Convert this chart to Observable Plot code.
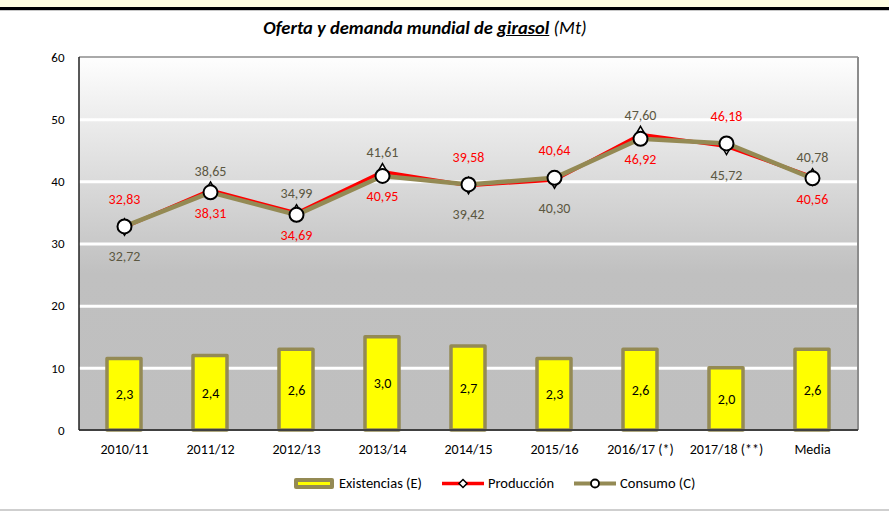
<!DOCTYPE html>
<html>
<head>
<meta charset="utf-8">
<script src="https://cdn.jsdelivr.net/npm/d3@7"></script>
<script src="https://cdn.jsdelivr.net/npm/@observablehq/plot@0.6"></script>
<style>
  body { margin: 0; background: #fff; font-family: Carlito, Lato, "Open Sans", sans-serif; }
  #wrap { position: relative; width: 889px; height: 512px; overflow: hidden; background: #fff; }
  #band { position: absolute; left: 0; top: 0; width: 889px; height: 7px; background: #fffee0; }
  #bline { position: absolute; left: 0; top: 7px; width: 889px; height: 3px; background: #000; }
  #gline { position: absolute; left: 0; top: 10px; width: 889px; height: 1px; background: #c8c8c8; }
  #bottom { position: absolute; left: 0; top: 509px; width: 889px; height: 2px; background: #cfcfcf; }
  #chart { position: absolute; left: 0; top: 0; }
  #title { position: absolute; left: 0; top: 16px; width: 850px; text-align: center; font-size: 18.5px; color: #000; }
  #legend { position: absolute; left: 293px; top: 474px; display: flex; align-items: center; font-size: 14.5px; color: #000; }
  .item { display: flex; align-items: center; margin-right: 20px; }
  .item svg { margin-right: 4px; }
</style>
</head>
<body>
<div id="wrap">
  <div id="band"></div><div id="bline"></div><div id="gline"></div>
  <div id="chart"></div>
  <div id="title"><b><i>Oferta y demanda mundial de <u>girasol</u></i></b> <i>(Mt)</i></div>
  <div id="legend">
    <div class="item">
      <svg width="42" height="13"><rect x="1" y="1" width="40" height="11" rx="2" fill="#948a54"/><rect x="5" y="5" width="32" height="3" fill="#ffff00"/></svg>
      <span>Existencias (E)</span>
    </div>
    <div class="item">
      <svg width="42" height="13"><line x1="0" y1="6.5" x2="42" y2="6.5" stroke="#ff0000" stroke-width="3.5"/><path d="M21,2.5 L25,6.5 L21,10.5 L17,6.5 Z" fill="#fff" stroke="#000" stroke-width="1.5"/></svg>
      <span>Producción</span>
    </div>
    <div class="item">
      <svg width="42" height="13"><line x1="0" y1="6.5" x2="42" y2="6.5" stroke="#948a54" stroke-width="4"/><circle cx="21" cy="6.5" r="4" fill="#fff" stroke="#000" stroke-width="1.8"/></svg>
      <span>Consumo (C)</span>
    </div>
  </div>
  <div id="bottom"></div>
</div>
<script>
// ---- Data (Mt) ----
const campanas = ["2010/11", "2011/12", "2012/13", "2013/14", "2014/15", "2015/16", "2016/17 (*)", "2017/18 (**)", "Media"];
const existencias = [2.3, 2.4, 2.6, 3.0, 2.7, 2.3, 2.6, 2.0, 2.6];          // bars, secondary axis 0–12
const produccion  = [32.72, 38.65, 34.99, 41.61, 39.42, 40.30, 47.60, 45.72, 40.78]; // red line, diamonds
const consumo     = [32.83, 38.31, 34.69, 40.95, 39.58, 40.64, 46.92, 46.18, 40.56]; // olive line, circles
const yTicks = [0, 10, 20, 30, 40, 50, 60];
const secondaryMax = 12;   // hidden secondary axis for stocks
const primaryMax = 60;

const fmt = v => v.toFixed(2).replace(".", ",");
const fmt1 = v => v.toFixed(1).replace(".", ",");
const toPrimary = v => v * primaryMax / secondaryMax;

const data = campanas.map((c, i) => ({
  cat: c, e: existencias[i], p: produccion[i], c: consumo[i]
}));

const OLIVE = "#948a54";
const OLIVE_TXT = "#5b5741";
const RED = "#ff0000";
const FONT = "Carlito, Lato, 'Open Sans', sans-serif";

const background = (index, scales, values, dim) => {
  const g = d3.create("svg:g");
  const lg = g.append("defs").append("linearGradient")
    .attr("id", "bgGrad").attr("x1", 0).attr("y1", 0).attr("x2", 0).attr("y2", 1);
  lg.append("stop").attr("offset", "0%").attr("stop-color", "#fefefe");
  lg.append("stop").attr("offset", "30%").attr("stop-color", "#dedede");
  lg.append("stop").attr("offset", "58%").attr("stop-color", "#c0c0c0");
  lg.append("stop").attr("offset", "100%").attr("stop-color", "#bfbfbf");
  g.append("rect")
    .attr("x", dim.marginLeft).attr("y", dim.marginTop)
    .attr("width", dim.width - dim.marginLeft - dim.marginRight)
    .attr("height", dim.height - dim.marginTop - dim.marginBottom)
    .attr("fill", "url(#bgGrad)");
  return g.node();
};

const borders = (index, scales, values, dim) => {
  const g = d3.create("svg:g");
  const x0 = dim.marginLeft, x1 = dim.width - dim.marginRight;
  const y0 = dim.marginTop, y1 = dim.height - dim.marginBottom;
  g.append("line").attr("x1", x0).attr("x2", x1).attr("y1", y0).attr("y2", y0).attr("stroke", "#8c8c8c").attr("stroke-width", 1.5);
  g.append("line").attr("x1", x1).attr("x2", x1).attr("y1", y0).attr("y2", y1).attr("stroke", "#8c8c8c").attr("stroke-width", 2);
  g.append("line").attr("x1", x0).attr("x2", x1).attr("y1", y1).attr("y2", y1).attr("stroke", "#404040").attr("stroke-width", 2);
  g.append("line").attr("x1", x0).attr("x2", x0).attr("y1", y0).attr("y2", y1).attr("stroke", "#222").attr("stroke-width", 1.5);
  return g.node();
};

// label placement: the higher value of each pair goes above, the lower below
const labelRows = [];
data.forEach(d => {
  const pAbove = d.p >= d.c;
  labelRows.push({cat: d.cat, v: d.p, s: "p", above: pAbove});
  labelRows.push({cat: d.cat, v: d.c, s: "c", above: !pAbove});
});

const chart = Plot.plot({
  width: 889,
  height: 512,
  marginLeft: 79,
  marginRight: 31,
  marginTop: 57,
  marginBottom: 82,
  style: { fontFamily: FONT, background: "transparent", overflow: "visible" },
  x: { type: "band", domain: campanas, paddingInner: 0.6, paddingOuter: 0.3, label: null },
  y: { domain: [0, primaryMax], label: null },
  marks: [
    background,
    Plot.ruleY(yTicks.filter(t => t > 0 && t < primaryMax), { stroke: "#ffffff", strokeWidth: 3 }),
    Plot.barY(data, { x: "cat", y: d => toPrimary(d.e), fill: "#ffff00", stroke: OLIVE, strokeWidth: 3.5, strokeLinejoin: "round" }),
    Plot.text(data, { x: "cat", y: d => toPrimary(d.e) / 2, text: d => fmt1(d.e), fill: "#000", fontSize: 14 }),
    Plot.line(data, { x: "cat", y: "p", stroke: RED, strokeWidth: 3.5 }),
    Plot.line(data, { x: "cat", y: "c", stroke: OLIVE, strokeWidth: 4.5 }),
    Plot.dot(data, { x: "cat", y: "p", symbol: "diamond", r: 5, fill: "#fff", stroke: "#000", strokeWidth: 1.5 }),
    Plot.dot(data, { x: "cat", y: "c", r: 7, fill: "#fff", stroke: "#000", strokeWidth: 2 }),
    // produccion labels (olive text)
    Plot.text(labelRows.filter(r => r.s === "p" && r.above), { x: "cat", y: "v", text: d => fmt(d.v), fill: OLIVE_TXT, fontSize: 14, dy: -19 }),
    Plot.text(labelRows.filter(r => r.s === "p" && !r.above), { x: "cat", y: "v", text: d => fmt(d.v), fill: OLIVE_TXT, fontSize: 14, dy: 29 }),
    // consumo labels (red text)
    Plot.text(labelRows.filter(r => r.s === "c" && r.above), { x: "cat", y: "v", text: d => fmt(d.v), fill: RED, fontSize: 14, dy: -27 }),
    Plot.text(labelRows.filter(r => r.s === "c" && !r.above), { x: "cat", y: "v", text: d => fmt(d.v), fill: RED, fontSize: 14, dy: 21 }),
    borders,
    Plot.axisY({ ticks: yTicks, tickSize: 0, tickPadding: 15, fontSize: 13, fill: "#000", label: null }),
    Plot.axisX({ tickSize: 0, tickPadding: 14, fontSize: 14, fill: "#000", label: null })
  ]
});
document.getElementById("chart").appendChild(chart);
</script>
</body>
</html>
